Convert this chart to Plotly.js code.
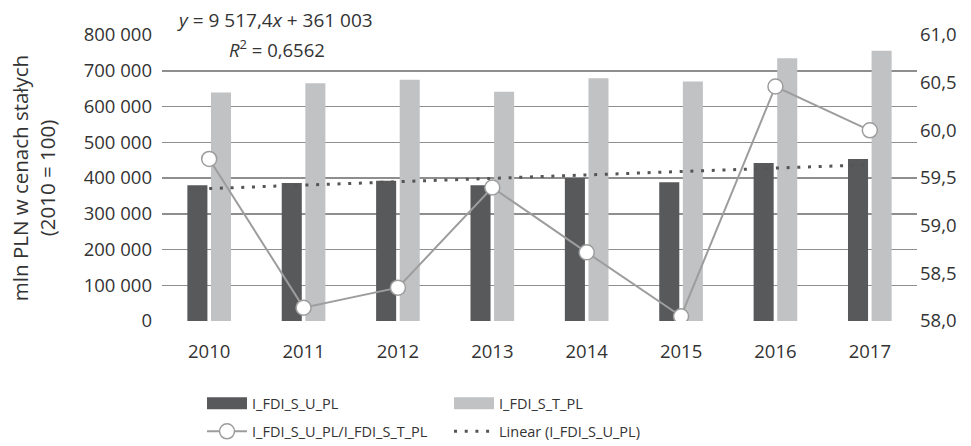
<!DOCTYPE html>
<html>
<head>
<meta charset="utf-8">
<script src="https://cdn.plot.ly/plotly-3.0.1.min.js"></script>
<style>html,body{margin:0;padding:0;background:#fff;}#chart{width:971px;height:446px;}</style>
</head>
<body>
<div id="chart"></div>
<script>
const years = ['2010','2011','2012','2013','2014','2015','2016','2017'];
const fdiSU = [379500, 386000, 392500, 380000, 400000, 388000, 442000, 453000];
const fdiST = [639000, 665000, 674500, 641000, 679000, 670000, 735000, 756000];
const ratio = [59.70, 58.14, 58.35, 59.40, 58.72, 58.05, 60.46, 60.00];
const trend = [370520, 380038, 389555, 399072, 408590, 418107, 427625, 437142];
const leftTicks = [0, 100000, 200000, 300000, 400000, 500000, 600000, 700000, 800000];
const rightTicks = [58.0, 58.5, 59.0, 59.5, 60.0, 60.5, 61.0];

const fam = '"Open Sans", "Noto Sans", sans-serif';
const font = {family: fam, size: 18.5, color: '#333333'};
const legFont = {family: fam, size: 14.5, color: '#333333'};

const traces = [
  {type: 'bar', x: years, y: fdiSU, name: 'I_FDI_S_U_PL', marker: {color: '#58595b'}, legend: 'legend', hoverinfo: 'skip'},
  {type: 'bar', x: years, y: fdiST, name: 'I_FDI_S_T_PL', marker: {color: '#c1c2c4'}, legend: 'legend', hoverinfo: 'skip'},
  {type: 'scatter', mode: 'lines', x: years, y: trend, name: 'Linear (I_FDI_S_U_PL)',
   line: {color: '#555555', width: 3, dash: '3px,7.7px'}, legend: 'legend2', legendrank: 2, hoverinfo: 'skip'},
  {type: 'scatter', mode: 'lines+markers', x: years, y: ratio, yaxis: 'y2', name: 'I_FDI_S_U_PL/I_FDI_S_T_PL',
   line: {color: '#9d9d9d', width: 2},
   marker: {symbol: 'circle', size: 15, color: '#ffffff', line: {color: '#9d9d9d', width: 1.5}},
   legend: 'legend2', legendrank: 1, hoverinfo: 'skip'}
];

const layout = {
  width: 971, height: 446,
  margin: {l: 162, r: 54, t: 35, b: 124.5, autoexpand: false},
  paper_bgcolor: '#ffffff', plot_bgcolor: 'rgba(0,0,0,0)',
  separators: ', ',
  font: font,
  barmode: 'group', bargap: 0.5, bargroupgap: 0.15,
  showlegend: true,
  xaxis: {type: 'category', showgrid: false, zeroline: false, showline: false, ticks: '',
          ticklabelstandoff: 17, tickfont: font},
  yaxis: {range: [0, 800000], tickmode: 'array', tickvals: leftTicks, tickformat: ',d', showgrid: true,
          gridcolor: '#8e8e8e', gridwidth: 1.5, griddash: 'solid', zeroline: false, showline: false, ticks: '',
          ticklabelstandoff: 9, tickfont: font,
          title: {text: 'mln PLN w cenach stałych<br>(2010 = 100)', font: {family: fam, size: 20.5, color: '#333333'}, standoff: 22}},
  yaxis2: {range: [58, 61], tickmode: 'array', tickvals: rightTicks, tickformat: '.1f', overlaying: 'y', side: 'right',
           showgrid: false, zeroline: false, showline: false, ticks: '', tickfont: font, ticklabelstandoff: 2},
  legend: {orientation: 'h', x: 0.053, xanchor: 'left', y: -0.288, yanchor: 'middle', itemwidth: 40,
           entrywidth: 192, entrywidthmode: 'pixels', font: legFont,
           bgcolor: 'rgba(0,0,0,0)', traceorder: 'normal'},
  legend2: {orientation: 'h', x: 0.053, xanchor: 'left', y: -0.386, yanchor: 'middle', itemwidth: 40,
           entrywidth: 192, entrywidthmode: 'pixels', font: legFont,
           bgcolor: 'rgba(0,0,0,0)', traceorder: 'normal'},
  annotations: [
    {xref: 'paper', yref: 'paper', x: (275 - 162) / 755, y: (321.5 - 20) / 286.5, xanchor: 'center', yanchor: 'middle',
     showarrow: false, text: '<i>y</i> = 9 517,4<i>x</i> + 361 003', font: {family: fam, size: 19, color: '#333333'}},
    {xref: 'paper', yref: 'paper', x: (277 - 162) / 755, y: (321.5 - 49) / 286.5, xanchor: 'center', yanchor: 'middle',
     showarrow: false, text: '<i>R</i><sup>2</sup> = 0,6562', font: {family: fam, size: 18.5, color: '#333333'}}
  ]
};

Plotly.newPlot('chart', traces, layout, {displayModeBar: false, staticPlot: true}).then(function () {
  // widen the bar swatches in the legend to match the reference's long rectangles
  document.querySelectorAll('.legend .legendpoints path').forEach(function (p) {
    const d = p.getAttribute('d') || '';
    if (/^M6,6H-6V-6H6Z$/.test(d)) p.setAttribute('d', 'M20,6H-20V-6H20Z');
  });
});
</script>
</body>
</html>
